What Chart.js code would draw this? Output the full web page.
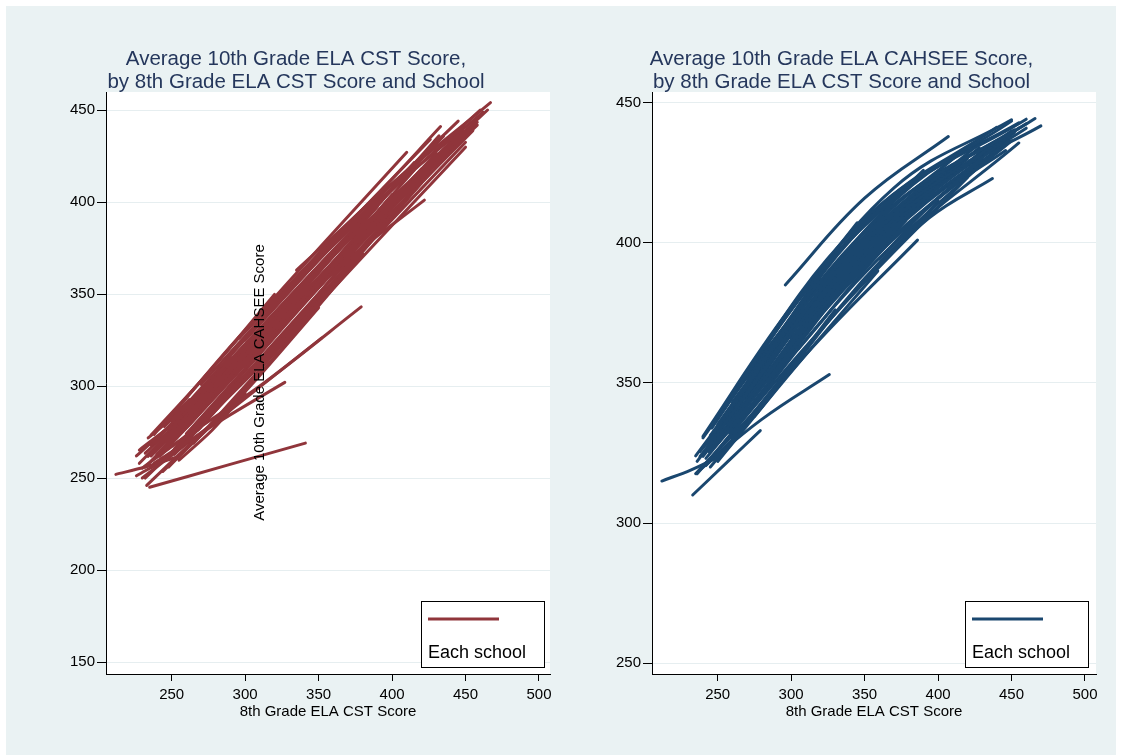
<!DOCTYPE html>
<html><head><meta charset="utf-8">
<script src="https://cdn.jsdelivr.net/npm/chart.js@4.4.1/dist/chart.umd.min.js"></script>
<style>
html,body{margin:0;padding:0;background:#fff;width:1121px;height:755px;overflow:hidden}
#bg{position:absolute;left:6px;top:6px;width:1110px;height:749px;background:#EAF2F3}
canvas{position:absolute;top:0}
#c1{left:0px}
#c2{left:560px}
</style></head><body>
<div id="bg"></div>
<canvas id="c1" width="560" height="755"></canvas>
<canvas id="c2" width="561" height="755"></canvas>
<script>
// ---------- DATA ----------
const xTickValues = [250, 300, 350, 400, 450, 500];
const cstYTickValues = [150, 200, 250, 300, 350, 400, 450];
const cahseeYTickValues = [250, 300, 350, 400, 450];

const cstTitleLines = ["Average 10th Grade ELA CST Score,", "by 8th Grade ELA CST Score and School"];
const cahseeTitleLines = ["Average 10th Grade ELA CAHSEE Score,", "by 8th Grade ELA CST Score and School"];
const xAxisTitle = "8th Grade ELA CST Score";
const strayYTitle = "Average 10th Grade ELA CAHSEE Score";
const legendLabel = "Each school";

// each school: [start], [middle], [end] as [8th grade CST, 10th grade score]
const cstSchoolLines = [
  [[240,263],[340,348],[440,432]],
  [[236,267.7],[333,351.1],[430,432.4]],
  [[244,259],[347,345.9],[450,432.5]],
  [[250,281.2],[355,372.5],[460,450]],
  [[232,250],[326,324.1],[420,410.3]],
  [[238,273.7],[324,351.6],[410,427]],
  [[246,270],[345.5,355.5],[445,436.6]],
  [[255,279.3],[360,371],[465,450]],
  [[242,261.8],[321,330.1],[400,404]],
  [[252,262.9],[338.5,337.3],[425,416.8]],
  [[260,274],[357.5,359.8],[455,438.8]],
  [[234,261.8],[312,327.7],[390,397.5]],
  [[248,256],[314,310.4],[380,371.8]],
  [[258,284.5],[346.5,362.4],[435,435.8]],
  [[265,268.9],[357.5,350.8],[450,429.8]],
  [[270,300.9],[357.5,376.3],[445,444]],
  [[262,283.4],[338.5,351.7],[415,421.4]],
  [[275,283.6],[357.5,356.8],[440,427.3]],
  [[280,295],[355,360.5],[430,426.7]],
  [[290,303.1],[374,377.5],[458,441.8]],
  [[300,325],[381,393.8],[462,448.8]],
  [[310,310.3],[367.5,362],[425,415.6]],
  [[230,255.4],[265,276.8],[300,309]],
  [[228,265.2],[259,285.3],[290,316.4]],
  [[232,263.5],[281,301.4],[330,345.7]],
  [[244,253.6],[297,294.3],[350,342.5]],
  [[236,273.4],[278,310],[320,349.8]],
  [[250,284],[295,326],[340,362]],
  [[226,251.2],[248,261.6],[270,277.8]],
  [[240,263],[262.5,279.3],[285,300]],
  [[255,259.7],[277.5,276],[300,296]],
  [[234,271.8],[248,281.2],[262,292.6]],
  [[240,262],[310,300],[379,343]],
  [[238,258],[285,282],[327,302]],
  [[235,245],[288,257],[341,269]],
  [[212,252],[232,256],[252,261]],
  [[230,250],[290,287],[352,326]],
  [[300,310],[360,362],[422,401]],
  [[335,363],[385,400],[433,441]],
  [[296,326],[380,396],[467,454]],
  [[320,345],[375,392],[426,434]],
  [[233,246],[262,268],[290,288]],
  [[245,266.5],[330,340.7],[415,417.3]],
  [[262,280.3],[360,366.5],[458,443.4]],
  [[285,305.6],[366.5,376],[448,438.7]],
  [[268,276.1],[336.5,337.5],[405,403.3]],
  [[228,258],[325,337],[420,418]],
  [[236,262],[335,343],[435,428]],
  [[242,268],[345,352],[448,436]],
  [[248,276],[340,353],[432,436]],
  [[252,266],[330,336],[408,408]],
  [[258,270],[345,349],[432,424]],
  [[232,256],[300,312],[370,372]],
  [[245,278],[310,330],[375,385]],
  [[226,262],[255,283],[285,306]],
  [[265,292],[335,350],[405,412]]
];

const cahseeSchoolLines = [
  [[240,330.4],[345,406],[450,443.5]],
  [[245,331.3],[355.5,407],[466,444.4]],
  [[238,323.8],[339,391.4],[440,436.5]],
  [[242,323.1],[336,383.5],[430,430.3]],
  [[236,317.6],[328,373.6],[420,423.4]],
  [[250,332.4],[352.5,401.8],[455,441]],
  [[255,332.8],[350,395.6],[445,436.7]],
  [[260,343.2],[360,411.7],[460,444.2]],
  [[248,332.5],[329,390.4],[410,430.3]],
  [[252,327.2],[343.5,385.6],[435,430.7]],
  [[244,325.5],[322,377.4],[400,420.3]],
  [[258,332.2],[354,394.3],[450,436.5]],
  [[265,340.7],[358.5,402.7],[452,439.4]],
  [[270,351.3],[355,410.3],[440,441.3]],
  [[262,341.3],[343.5,397.8],[425,434.1]],
  [[246,333.9],[318,388.2],[390,425.9]],
  [[240,323.8],[310,370.6],[380,411.2]],
  [[275,338],[365,395.8],[455,435.7]],
  [[280,355],[370,413],[460,442.6]],
  [[285,350.4],[366.5,402.3],[448,436.5]],
  [[290,369.7],[370,419.7],[450,444]],
  [[300,366],[380,413.3],[460,441]],
  [[305,362.2],[372.5,403.1],[440,433.2]],
  [[310,380.4],[382.5,420.7],[455,442.9]],
  [[320,377.2],[382.5,412.4],[445,436.7]],
  [[330,388.5],[391,420.5],[452,440.4]],
  [[296,385],[350,416],[407,438]],
  [[250,322],[305,357],[359,390]],
  [[245,320],[315,363],[386,401]],
  [[238,319],[280,337],[326,353]],
  [[233,310],[257,322],[279,333]],
  [[212,315],[232,319],[252,324]],
  [[235,317.6],[282.5,344.3],[330,376.1]],
  [[240,331],[292.5,371.8],[345,407.2]],
  [[255,341.1],[292.5,370.7],[330,397.2]],
  [[250,335.2],[285,361.2],[320,387.1]],
  [[242,320.6],[271,335.9],[300,355.2]],
  [[248,327.1],[279,345.9],[310,368.1]],
  [[238,325.5],[264,342.7],[290,361.9]],
  [[260,330.1],[330,374.8],[400,414.9]],
  [[268,347.2],[344,400.5],[420,434.2]],
  [[256,335.8],[325.5,384.5],[395,421.5]],
  [[278,348.3],[354,399],[430,432.9]],
  [[340,388.3],[405,422.4],[470,441.8]],
  [[350,387],[394,409],[437,423]],
  [[360,394.3],[403,417.4],[446,433]],
  [[236,322],[320,380],[405,425]],
  [[243,328],[335,392],[428,434]],
  [[250,338],[330,392],[410,428]],
  [[258,338],[355,402],[450,440]],
  [[240,327],[300,370],[360,405]],
  [[252,330],[315,372],[378,408]],
  [[270,345],[345,398],[420,430]],
  [[265,350],[320,385],[375,412]],
  [[282,360],[350,402],[418,430]],
  [[235,324],[265,345],[295,366]]
];

// ---------- STYLE ----------
const FONT = '"Liberation Sans", Arial, Helvetica, sans-serif';
const titleColor = '#25375C';
const gridColor = '#E6EEF0';

function makeDatasets(lines, color, tension) {
  return lines.map(pts => ({
    data: pts.map(p => ({x: p[0], y: p[1]})),
    showLine: true,
    borderColor: color,
    backgroundColor: color,
    borderWidth: 3,
    borderCapStyle: 'round',
    borderJoinStyle: 'round',
    pointRadius: 0,
    tension: tension,
    fill: false
  }));
}

function decoPlugin(cfg) {
  return {
    id: 'deco',
    beforeDraw(chart) {
      const ctx = chart.ctx, a = chart.chartArea;
      ctx.save();
      ctx.fillStyle = '#ffffff';
      ctx.fillRect(a.left, a.top, a.right - a.left, a.bottom - a.top);
      ctx.restore();
    },
    afterDraw(chart) {
      const ctx = chart.ctx, a = chart.chartArea;
      ctx.save();
      ctx.fillStyle = titleColor;
      ctx.font = '20.5px ' + FONT;
      ctx.textAlign = 'center';
      ctx.textBaseline = 'alphabetic';
      ctx.fillText(cfg.title[0], cfg.titleX, 65);
      ctx.fillText(cfg.title[1], cfg.titleX, 87.5);
      ctx.fillStyle = '#000';
      ctx.font = '15px ' + FONT;
      ctx.fillText(xAxisTitle, (a.left + a.right) / 2, 716);
      if (cfg.stray) {
        ctx.save();
        ctx.translate(cfg.stray.x, cfg.stray.y);
        ctx.rotate(-Math.PI / 2);
        ctx.font = '15px ' + FONT;
        ctx.fillStyle = '#000';
        ctx.textAlign = 'center';
        ctx.fillText(strayYTitle, 0, 0);
        ctx.restore();
      }
      const L = cfg.legend;
      ctx.fillStyle = '#fff';
      ctx.fillRect(L.x, L.y, L.w, L.h);
      ctx.strokeStyle = '#000';
      ctx.lineWidth = 1;
      ctx.strokeRect(L.x + 0.5, L.y + 0.5, L.w, L.h);
      ctx.strokeStyle = cfg.color;
      ctx.lineWidth = 3;
      ctx.beginPath();
      ctx.moveTo(L.x + 7, L.y + 18);
      ctx.lineTo(L.x + 78, L.y + 18);
      ctx.stroke();
      ctx.fillStyle = '#000';
      ctx.font = '18px ' + FONT;
      ctx.textAlign = 'left';
      ctx.fillText(legendLabel, L.x + 7, L.y + 57);
      ctx.restore();
    }
  };
}

function makeChart(id, lines, color, tension, yMin, yMax, yTicks, axisW, padRight, deco) {
  return new Chart(document.getElementById(id), {
    type: 'scatter',
    data: { datasets: makeDatasets(lines, color, tension) },
    options: {
      responsive: false,
      animation: false,
      devicePixelRatio: 1,
      events: [],
      layout: { padding: { left: 0, top: 92, right: padRight, bottom: 0 } },
      plugins: { legend: { display: false }, tooltip: { enabled: false }, title: { display: false } },
      scales: {
        x: {
          type: 'linear', min: 205.3, max: 507.5,
          afterBuildTicks: s => { s.ticks = xTickValues.map(v => ({ value: v })); },
          afterFit: s => { s.height = 81; },
          grid: { display: true, drawOnChartArea: false, drawTicks: true, tickLength: 7, tickColor: '#000', tickWidth: 1 },
          border: { display: true, color: '#000', width: 1 },
          ticks: { color: '#000', font: { family: FONT, size: 15 }, padding: 5, maxRotation: 0, autoSkip: false }
        },
        y: {
          type: 'linear', min: yMin, max: yMax,
          afterBuildTicks: s => { s.ticks = yTicks.map(v => ({ value: v })); },
          afterFit: s => { s.width = axisW; },
          grid: { display: true, color: gridColor, lineWidth: 1, drawTicks: true, tickLength: 9, tickColor: '#000', tickWidth: 1 },
          border: { display: true, color: '#000', width: 1 },
          ticks: { color: '#000', font: { family: FONT, size: 15 }, padding: 2, autoSkip: false }
        }
      }
    },
    plugins: [deco]
  });
}

makeChart('c1', cstSchoolLines, 'rgb(144,53,59)', 0.3, 143.5, 459.8, cstYTickValues, 106, 10,
  decoPlugin({ title: cstTitleLines, titleX: 296, color: 'rgb(144,53,59)',
    stray: { x: 263.5, y: 382.5 },
    legend: { x: 421, y: 601, w: 123, h: 66 } }));

makeChart('c2', cahseeSchoolLines, 'rgb(26,71,111)', 0.4, 246.1, 453.9, cahseeYTickValues, 92, 25,
  decoPlugin({ title: cahseeTitleLines, titleX: 281.5, color: 'rgb(26,71,111)',
    stray: null,
    legend: { x: 405, y: 601, w: 123, h: 66 } }));
</script>
</body></html>
